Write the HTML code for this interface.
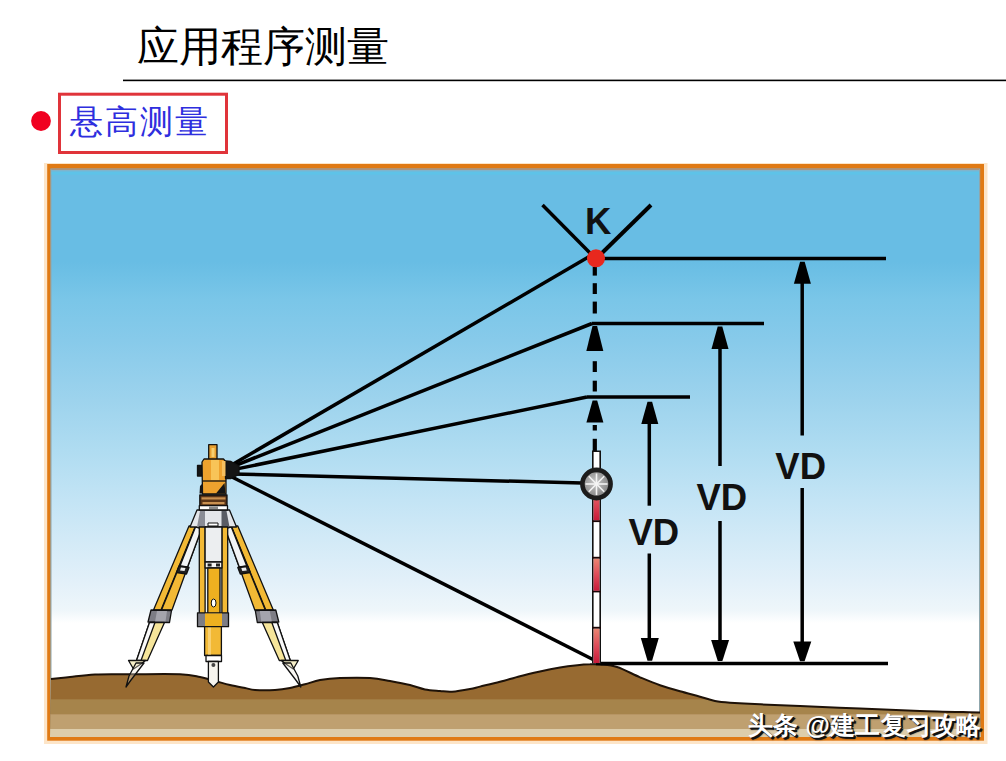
<!DOCTYPE html>
<html><head><meta charset="utf-8">
<style>
html,body{margin:0;padding:0;background:#fff;width:1006px;height:761px;overflow:hidden}
.t{position:absolute;white-space:nowrap;font-family:"Liberation Serif",serif}
#title{left:137px;top:19px;font-size:41.7px;color:#000}
#sub{left:70px;top:100px;font-size:33px;letter-spacing:2px;color:#2e2ede}
#wm{position:absolute;left:748px;top:709px;font-family:"Liberation Sans",sans-serif;font-size:25px;letter-spacing:0.2px;color:#fff;font-weight:bold;text-shadow:1px 1px 0 #111,2px 2px 0 #111,2px 2px 1.5px #222;white-space:nowrap}
svg{position:absolute;left:0;top:0}
.vd{font-family:"Liberation Sans",sans-serif;font-weight:bold;font-size:36.5px;fill:#111}
</style></head><body>
<svg width="1006" height="761" viewBox="0 0 1006 761">
<defs>
<linearGradient id="sky" x1="0" y1="168" x2="0" y2="736" gradientUnits="userSpaceOnUse">
<stop offset="0.0000" stop-color="#68bde4"/>
<stop offset="0.1655" stop-color="#68bde4"/>
<stop offset="0.2324" stop-color="#7ac6e8"/>
<stop offset="0.3028" stop-color="#87caea"/>
<stop offset="0.4085" stop-color="#9dd3ed"/>
<stop offset="0.4965" stop-color="#afdcf1"/>
<stop offset="0.5845" stop-color="#c3e4f5"/>
<stop offset="0.7254" stop-color="#e2f0f9"/>
<stop offset="0.7782" stop-color="#eef6fa"/>
<stop offset="0.8011" stop-color="#ffffff"/>
<stop offset="1.0000" stop-color="#ffffff"/>
</linearGradient>
<clipPath id="gclip"><path d="M51.0,679.0 C54.2,678.7 62.7,677.8 70.0,677.0 C77.3,676.2 85.0,675.0 95.0,674.5 C105.0,674.0 115.8,674.3 130.0,674.3 C144.2,674.3 168.3,673.8 180.0,674.3 C191.7,674.8 194.2,675.9 200.0,677.0 C205.8,678.1 210.0,679.7 215.0,681.0 C220.0,682.3 225.0,683.8 230.0,685.0 C235.0,686.2 240.8,687.2 245.0,688.0 C249.2,688.8 250.0,689.7 255.0,690.0 C260.0,690.3 269.2,690.3 275.0,690.0 C280.8,689.7 285.0,689.0 290.0,688.0 C295.0,687.0 300.0,685.6 305.0,684.3 C310.0,683.0 314.2,681.0 320.0,680.0 C325.8,679.0 331.7,678.3 340.0,678.0 C348.3,677.7 361.7,677.5 370.0,678.0 C378.3,678.5 383.3,679.8 390.0,681.0 C396.7,682.2 404.2,683.6 410.0,685.0 C415.8,686.4 420.0,688.4 425.0,689.4 C430.0,690.4 435.5,690.6 440.0,691.0 C444.5,691.4 447.0,692.0 452.0,691.7 C457.0,691.4 465.3,689.9 470.0,689.0 C474.7,688.1 475.0,687.8 480.0,686.6 C485.0,685.4 493.3,683.5 500.0,681.8 C506.7,680.1 513.3,677.9 520.0,676.2 C526.7,674.5 533.3,673.0 540.0,671.5 C546.7,670.0 554.2,668.5 560.0,667.5 C565.8,666.5 570.0,665.9 575.0,665.4 C580.0,664.9 585.8,664.4 590.0,664.3 C594.2,664.1 595.5,664.0 600.0,664.5 C604.5,665.0 610.3,664.9 617.0,667.0 C623.7,669.1 632.8,674.3 640.0,677.3 C647.2,680.3 653.3,682.9 660.0,685.2 C666.7,687.5 673.3,689.4 680.0,691.3 C686.7,693.2 694.2,695.1 700.0,696.7 C705.8,698.3 710.0,700.0 715.0,701.0 C720.0,702.0 722.5,702.2 730.0,702.7 C737.5,703.2 748.3,703.8 760.0,704.3 C771.7,704.8 783.3,705.3 800.0,706.0 C816.7,706.7 840.0,707.7 860.0,708.5 C880.0,709.3 900.0,710.3 920.0,711.0 C940.0,711.7 970.0,712.2 980.0,712.5 L981,737 L50,737 Z"/></clipPath>
<linearGradient id="redseg" x1="0" x2="0" y1="0" y2="1">
<stop offset="0" stop-color="#ea8672"/><stop offset="0.5" stop-color="#de4c5a"/><stop offset="1" stop-color="#c81a3a"/>
</linearGradient>
<radialGradient id="ball" cx="0.45" cy="0.45" r="0.6">
<stop offset="0" stop-color="#c8c8c8"/><stop offset="1" stop-color="#7a7a7a"/>
</radialGradient>
</defs>
<!-- header -->
<rect x="123" y="79.6" width="883" height="1.6" fill="#000"/>
<circle cx="41" cy="121" r="9.9" fill="#f00020"/>
<rect x="59.5" y="94.2" width="167" height="58.3" fill="none" stroke="#e0343a" stroke-width="3"/>
<!-- frame -->
<rect x="44" y="163" width="943.5" height="581" fill="#fde5c8"/>
<rect x="47.2" y="164" width="936.8" height="576.7" fill="#e07a14"/>
<rect x="50.3" y="168.5" width="929.9" height="568.5" fill="#8fa6ac"/>
<rect x="51.5" y="170" width="927.5" height="567" fill="url(#sky)"/>
<rect x="51.5" y="168.5" width="927.5" height="1.5" fill="#a89480"/>
<rect x="51.5" y="170" width="927.5" height="1.6" fill="#80b4cc"/>
<rect x="51.5" y="171.6" width="927.5" height="3" fill="#5ec3e8"/>
<!-- ground -->
<g clip-path="url(#gclip)">
<rect x="50" y="650" width="931" height="90" fill="#976a31"/>
<rect x="50" y="699.3" width="931" height="14.9" fill="#a6844b"/>
<rect x="50" y="714.2" width="931" height="14.6" fill="#bfa070"/>
<rect x="50" y="728.8" width="931" height="8.2" fill="#ddcdab"/>
</g>
<path d="M51.0,679.0 C54.2,678.7 62.7,677.8 70.0,677.0 C77.3,676.2 85.0,675.0 95.0,674.5 C105.0,674.0 115.8,674.3 130.0,674.3 C144.2,674.3 168.3,673.8 180.0,674.3 C191.7,674.8 194.2,675.9 200.0,677.0 C205.8,678.1 210.0,679.7 215.0,681.0 C220.0,682.3 225.0,683.8 230.0,685.0 C235.0,686.2 240.8,687.2 245.0,688.0 C249.2,688.8 250.0,689.7 255.0,690.0 C260.0,690.3 269.2,690.3 275.0,690.0 C280.8,689.7 285.0,689.0 290.0,688.0 C295.0,687.0 300.0,685.6 305.0,684.3 C310.0,683.0 314.2,681.0 320.0,680.0 C325.8,679.0 331.7,678.3 340.0,678.0 C348.3,677.7 361.7,677.5 370.0,678.0 C378.3,678.5 383.3,679.8 390.0,681.0 C396.7,682.2 404.2,683.6 410.0,685.0 C415.8,686.4 420.0,688.4 425.0,689.4 C430.0,690.4 435.5,690.6 440.0,691.0 C444.5,691.4 447.0,692.0 452.0,691.7 C457.0,691.4 465.3,689.9 470.0,689.0 C474.7,688.1 475.0,687.8 480.0,686.6 C485.0,685.4 493.3,683.5 500.0,681.8 C506.7,680.1 513.3,677.9 520.0,676.2 C526.7,674.5 533.3,673.0 540.0,671.5 C546.7,670.0 554.2,668.5 560.0,667.5 C565.8,666.5 570.0,665.9 575.0,665.4 C580.0,664.9 585.8,664.4 590.0,664.3 C594.2,664.1 595.5,664.0 600.0,664.5 C604.5,665.0 610.3,664.9 617.0,667.0 C623.7,669.1 632.8,674.3 640.0,677.3 C647.2,680.3 653.3,682.9 660.0,685.2 C666.7,687.5 673.3,689.4 680.0,691.3 C686.7,693.2 694.2,695.1 700.0,696.7 C705.8,698.3 710.0,700.0 715.0,701.0 C720.0,702.0 722.5,702.2 730.0,702.7 C737.5,703.2 748.3,703.8 760.0,704.3 C771.7,704.8 783.3,705.3 800.0,706.0 C816.7,706.7 840.0,707.7 860.0,708.5 C880.0,709.3 900.0,710.3 920.0,711.0 C940.0,711.7 970.0,712.2 980.0,712.5" fill="none" stroke="#1e1208" stroke-width="2"/>
<!-- sight lines -->
<g stroke="#000" stroke-width="3.5" fill="none" stroke-linecap="butt">
<line x1="232" y1="464.7" x2="591" y2="255.6"/>
<line x1="232" y1="466.8" x2="592" y2="323.5"/>
<line x1="232" y1="469.9" x2="587" y2="397"/>
<line x1="232" y1="474" x2="582" y2="483"/>
<line x1="232" y1="477" x2="596" y2="661"/>
<!-- horizontal levels -->
<line x1="596" y1="258.5" x2="886" y2="258.5"/>
<line x1="592" y1="323.5" x2="764" y2="323.5"/>
<line x1="587" y1="397" x2="690" y2="397"/>
<line x1="596" y1="663.5" x2="888" y2="663.5"/>
<!-- V of K -->
<line x1="542.5" y1="205" x2="590" y2="253"/>
<line x1="651" y1="205" x2="602" y2="253" stroke-width="4"/>
<!-- dashed -->
<!-- arrow shafts -->
<line x1="649.3" y1="410" x2="649.3" y2="505.7"/>
<line x1="649.3" y1="553.5" x2="649.3" y2="645"/>
<line x1="720" y1="335" x2="720" y2="466"/>
<line x1="720" y1="521" x2="720" y2="645"/>
<line x1="802.2" y1="270" x2="802.2" y2="435.5"/>
<line x1="802.2" y1="488" x2="802.2" y2="645"/>
</g>
<g fill="#000">
<!-- dashes -->
<rect x="592.7" y="266.9" width="4.2" height="8.7"/>
<rect x="592.7" y="283.2" width="4.2" height="10.8"/>
<rect x="592.7" y="301.6" width="4.2" height="11.9"/>
<rect x="592.7" y="361.2" width="4.2" height="10.8"/>
<rect x="592.7" y="380.7" width="4.2" height="10.8"/>
<rect x="592.7" y="425.0" width="4.2" height="5.5"/>
<rect x="592.7" y="438.8" width="4.2" height="12.2"/>
<!-- up arrows -->
<path d="M592.5,326.0 L597.1,326.0 L603.3,351.0 L586.3,351.0 Z"/>
<path d="M592.6,400.4 L597.2,400.4 L603.4,422.5 L586.4,422.5 Z"/>
<path d="M647.5,401.8 L652.1,401.8 L658.3,424.0 L641.3,424.0 Z"/>
<path d="M717.7,326.6 L722.3,326.6 L728.5,349.0 L711.5,349.0 Z"/>
<path d="M800.1,261.8 L804.7,261.8 L810.9,283.8 L793.9,283.8 Z"/>
<!-- down arrows -->
<path d="M640.8,638.0 L658.8,638.0 L652.1,660.8 L647.5,660.8 Z"/>
<path d="M711.1,640.0 L729.1,640.0 L722.4,661.0 L717.8,661.0 Z"/>
<path d="M793.3,641.5 L811.3,641.5 L804.6,661.2 L800.0,661.2 Z"/>
</g>
<!-- pole -->
<rect x="592" y="450.5" width="9" height="213" fill="#111"/>
<rect x="593.6" y="452" width="5.8" height="211" fill="#fff"/>
<rect x="593.6" y="484" width="5.8" height="36.5" fill="url(#redseg)"/>
<rect x="593.6" y="558.5" width="5.8" height="32.3" fill="url(#redseg)"/>
<rect x="593.6" y="628.5" width="5.8" height="34.5" fill="url(#redseg)"/>
<rect x="592" y="520.3" width="9" height="1.8" fill="#1a0606"/>
<rect x="592" y="556.8" width="9" height="1.8" fill="#1a0606"/>
<rect x="592" y="590.8" width="9" height="1.6" fill="#1a0606"/>
<rect x="592" y="626.8" width="9" height="1.8" fill="#1a0606"/>
<!-- ball -->
<circle cx="596.5" cy="484" r="14.1" fill="url(#ball)" stroke="#1c1c1c" stroke-width="4.6"/>
<g stroke="#f4f4f4" stroke-width="1.6">
<line x1="596.5" y1="473.5" x2="596.5" y2="495"/>
<line x1="585.5" y1="484" x2="607.5" y2="484"/>
<line x1="588.8" y1="476.3" x2="604.2" y2="491.7"/>
<line x1="604.2" y1="476.3" x2="588.8" y2="491.7"/>
</g>
<!-- red dot -->
<circle cx="596" cy="258.3" r="9" fill="#e8281e"/>
<!-- K and VD -->
<text x="585" y="234" class="vd">K</text>
<text x="628.5" y="545" class="vd">VD</text>
<text x="696.5" y="509.5" class="vd">VD</text>
<text x="775.3" y="479" class="vd">VD</text>
<!-- tripod -->
<g id="tripod" stroke="#111" stroke-width="1.3" stroke-linejoin="round">
<g id="legL">
<path d="M189,526 L195.5,526 L161,610 L153.5,610 Z" fill="#f2b935"/>
<path d="M195.5,527 L201.5,529 L172,610 L161.5,610 Z" fill="#f2b935"/>
<path d="M195.5,527 L201.5,529 L187.5,567 L180,566 Z" fill="#f2f4f6"/>
<path d="M179,566 L189,567.5 L186.5,574 L176.5,572.5 Z" fill="#222"/>
<path d="M181,567.5 L185.5,568 L184.5,571 L180,570.5 Z" fill="#eee" stroke="none"/>
<path d="M151,610 L171.5,610.5 L169.5,622.5 L148,622 Z" fill="#7d7d85"/>
<path d="M157,611 L167,611 L165.5,621.5 L155,621.5 Z" fill="#a4a4ac" stroke="none"/>
<path d="M149.5,622.5 L164.5,622.5 L147.5,660.5 L136.5,660.5 Z" fill="#f6e59a"/>
<path d="M149.5,622.5 L155,622.5 L141,660.5 L136.5,660.5 Z" fill="#fafafa"/>
<path d="M128.5,660.5 L145.5,660.5 L141,664 L133.5,669 Z" fill="#f6efc8"/>
<path d="M136,663 L144,663 L131,680 L126,687 L129,676 Z" fill="#f0ece0" fill-opacity="0.35"/>
</g>
<use href="#legL" transform="translate(426.8,0) scale(-1,1)"/>
<!-- head -->
<path d="M197,510 L229.5,510 L236.5,527 L190,527 Z" fill="#e4e6ea"/>
<path d="M200,511 L205,511 L205,527 L197,527 Z" fill="#8a8c95" stroke="none"/>
<path d="M221.5,511 L226.5,511 L229.5,527 L221.5,527 Z" fill="#5a5c64" stroke="none"/>
<rect x="208" y="523" width="10" height="3" fill="#fff" stroke-width="1"/>
<!-- center leg -->
<rect x="199.3" y="527" width="5.8" height="87" fill="#f2b935"/>
<rect x="221.9" y="527" width="5.8" height="87" fill="#f2b935"/>
<rect x="205.1" y="527" width="16.8" height="35" fill="#eceef0"/>
<rect x="205.1" y="562" width="16.8" height="6" fill="#f4f4f4"/>
<rect x="207.6" y="563.5" width="4" height="3" fill="#222" stroke="none"/>
<rect x="216" y="563.5" width="4" height="3" fill="#222" stroke="none"/>
<rect x="207.8" y="568" width="12.2" height="46" fill="#eeb020"/>
<rect x="204.6" y="625" width="16.8" height="30.5" fill="#f2b935"/>
<rect x="208" y="626" width="3" height="29" fill="#f8d070" stroke="none"/>
<ellipse cx="213.6" cy="603" rx="2.4" ry="4" fill="#fff" stroke-width="1"/>
<rect x="197.5" y="612.8" width="31" height="13.9" fill="#7d7d85"/>
<rect x="205" y="613.5" width="17" height="12.5" fill="#eeb020" stroke="none"/>
<rect x="206" y="655.5" width="15.5" height="6" fill="#fff"/>
<path d="M208.4,661.5 L218.4,661.5 L218.4,682 L213.4,687 L208.4,682 Z" fill="#f6f4ee"/>
<circle cx="213.4" cy="665" r="2" fill="#444" stroke="none"/>
</g>
<!-- instrument -->
<g id="inst" stroke="#111" stroke-width="1.3" stroke-linejoin="round">
<rect x="199.8" y="495" width="27.2" height="10.7" fill="#5a3518"/>
<rect x="201.5" y="497.3" width="24" height="2.2" fill="#c89050" stroke="none"/>
<rect x="202.5" y="502" width="22" height="2.2" fill="#c89050" stroke="none"/>
<rect x="199.3" y="505.7" width="28.2" height="4.3" fill="#fff"/>
<rect x="209" y="506.5" width="9" height="2.5" fill="#888" stroke="none"/>
<path d="M197.5,465.5 L202,465.5 L202,476 L197.5,476 Z" fill="#151515"/>
<path d="M208.7,444.7 L217,444.7 L217,460 L208.7,460 Z" fill="#e8a030"/>
<rect x="211.5" y="448" width="3" height="9" fill="#f8d070" stroke="none"/>
<path d="M204,459 L223.5,459 L226,462 L226,494 L202.5,494 L202,462 Z" fill="#eea22e"/>
<rect x="211" y="460" width="8" height="20" fill="#f8c458" stroke="none"/>
<line x1="202.5" y1="481" x2="226" y2="481"/>
<path d="M216,493.5 L224.5,483 L225.5,493.5 Z" fill="#151515" stroke="none"/>
<path d="M200,486 L203,483 L203,493.5 L199.5,493.5 Z" fill="#151515" stroke="none"/>
<path d="M225.5,461 L231,461.5 L239,466 L239,474.5 L231,478.5 L225.5,478.5 Z" fill="#151515"/>
<rect x="222" y="461" width="3.5" height="15" fill="#f6c060" stroke="none"/>
</g>
</svg>
<div class="t" id="title">应用程序测量</div>
<div class="t" id="sub">悬高测量</div>
<div id="wm">头条 @建工复习攻略</div>
</body></html>
